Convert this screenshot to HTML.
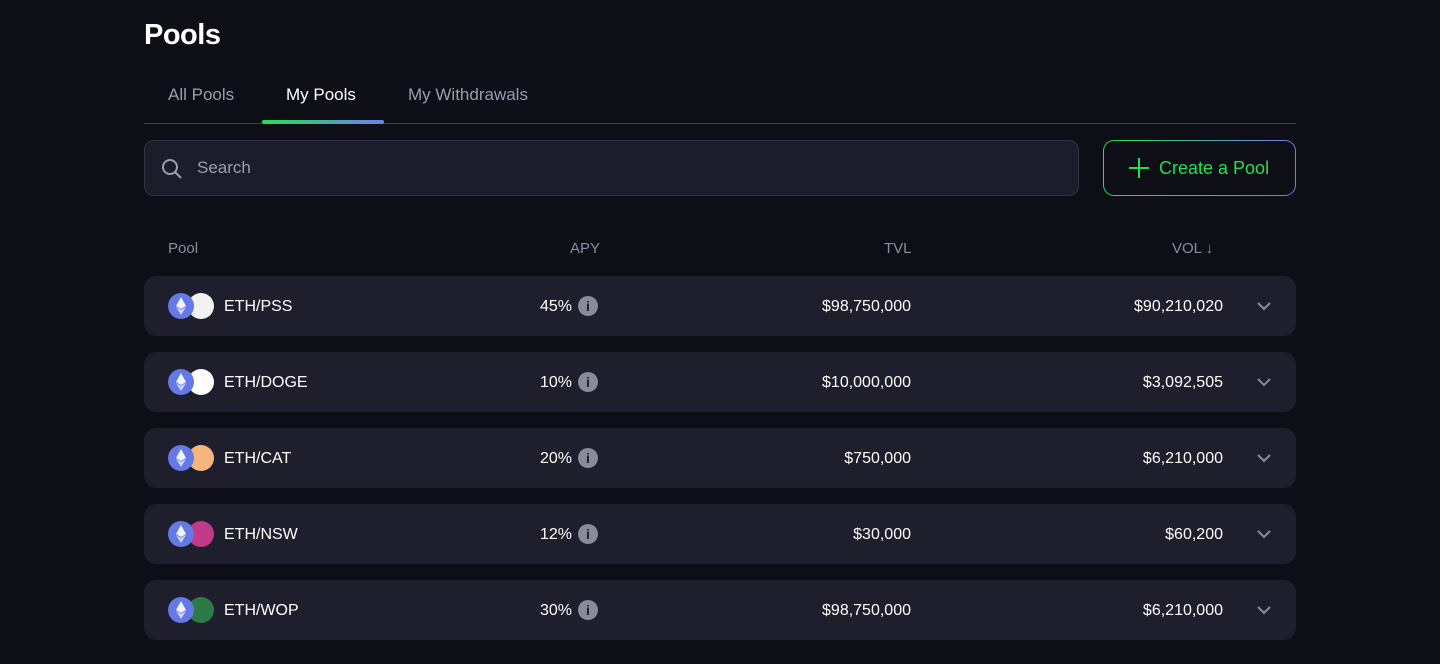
<!DOCTYPE html>
<html><head><style>
body{margin:0;width:1440px;height:664px;background:#0e0e17;font-family:"Liberation Sans",sans-serif;color:#fff;position:relative;overflow:hidden}
.a{position:absolute}
.title{left:144px;top:19px;font-size:29px;font-weight:bold;letter-spacing:-0.5px}
.tab{top:85px;font-size:17px;color:#9c9cb4}
.line{left:144px;top:123px;width:1152px;height:1px;background:#3e3e52}
.bar{left:262px;top:120px;width:122px;height:4px;border-radius:2px;background:linear-gradient(90deg,#1ee34c,#6e7ef0)}
.search{left:144px;top:140px;width:933px;height:54px;border:1px solid #33334a;border-radius:10px;background:#1c1c2a}
.btn{left:1103px;top:140px;width:193px;height:56px;border-radius:11px;background:linear-gradient(90deg,#1ee34c,#7878f0);}
.btn div{position:absolute;inset:1px;border-radius:10px;background:#0e0e17;color:#22e04c;font-size:18px;line-height:54px;text-align:left}
.hdr{top:240px;font-size:15px;color:#8c8ca4}
.row{left:144px;width:1152px;height:60px;border-radius:12px;background:#1e1e2d}
.row span{position:absolute;top:22px;font-size:16px;line-height:18px}
.c1{left:24px;top:17px;width:26px;height:26px;border-radius:50%;background:#6478e6}
.c2{left:44px;top:17px;width:26px;height:26px;border-radius:50%}
.info{position:absolute;left:434px;top:20px;width:20px;height:20px;border-radius:50%;background:#8a8a9e;color:#1e1e2d;font-size:14px;font-weight:bold;text-align:center;line-height:20px}
.chev{position:absolute;left:1113px;top:23px}
</style></head><body>
<div class="a title">Pools</div>
<div class="a tab" style="left:168px">All Pools</div>
<div class="a tab" style="left:286px;color:#fff">My Pools</div>
<div class="a tab" style="left:408px">My Withdrawals</div>
<div class="a line"></div><div class="a bar"></div>
<div class="a search"><svg class="a" style="left:15px;top:16px" width="24" height="24" viewBox="0 0 24 24"><circle cx="10" cy="10" r="7" stroke="#9c9cb4" stroke-width="2" fill="none"/><line x1="15" y1="15" x2="21" y2="21" stroke="#9c9cb4" stroke-width="2"/></svg><span class="a" style="left:52px;top:17px;font-size:17px;color:#9c9cb4">Search</span></div>
<div class="a btn"><div><svg style="position:absolute;left:25px;top:17px" width="20" height="20"><path d="M10 0V20M0 10H20" stroke="#22e04c" stroke-width="2"/></svg><span style="position:absolute;left:55px">Create a Pool</span></div></div>
<div class="a hdr" style="left:168px">Pool</div>
<div class="a hdr" style="left:570px">APY</div>
<div class="a hdr" style="left:884px">TVL</div>
<div class="a hdr" style="left:1172px">VOL ↓</div>

<div class="a row" style="top:276px"><div class="a c2" style="background:#f2f2f4"></div><div class="a c1"><svg width="26" height="26"><path d="M13 4L8 13L13 16L18 13Z" fill="#fff" opacity=".9"/><path d="M13 17L8 14L13 22L18 14Z" fill="#fff" opacity=".7"/></svg></div><span style="left:80px">ETH/PSS</span><span style="right:724px">45%</span><div class="info">i</div><span style="right:385px">$98,750,000</span><span style="right:73px">$90,210,020</span><svg class="chev" width="14" height="14"><path d="M1 4L7 10L13 4" stroke="#8a8a9e" stroke-width="2" fill="none"/></svg></div>
<div class="a row" style="top:352px"><div class="a c2" style="background:#fff"></div><div class="a c1"><svg width="26" height="26"><path d="M13 4L8 13L13 16L18 13Z" fill="#fff" opacity=".9"/><path d="M13 17L8 14L13 22L18 14Z" fill="#fff" opacity=".7"/></svg></div><span style="left:80px">ETH/DOGE</span><span style="right:724px">10%</span><div class="info">i</div><span style="right:385px">$10,000,000</span><span style="right:73px">$3,092,505</span><svg class="chev" width="14" height="14"><path d="M1 4L7 10L13 4" stroke="#8a8a9e" stroke-width="2" fill="none"/></svg></div>
<div class="a row" style="top:428px"><div class="a c2" style="background:#f4b67c"></div><div class="a c1"><svg width="26" height="26"><path d="M13 4L8 13L13 16L18 13Z" fill="#fff" opacity=".9"/><path d="M13 17L8 14L13 22L18 14Z" fill="#fff" opacity=".7"/></svg></div><span style="left:80px">ETH/CAT</span><span style="right:724px">20%</span><div class="info">i</div><span style="right:385px">$750,000</span><span style="right:73px">$6,210,000</span><svg class="chev" width="14" height="14"><path d="M1 4L7 10L13 4" stroke="#8a8a9e" stroke-width="2" fill="none"/></svg></div>
<div class="a row" style="top:504px"><div class="a c2" style="background:#c03a88"></div><div class="a c1"><svg width="26" height="26"><path d="M13 4L8 13L13 16L18 13Z" fill="#fff" opacity=".9"/><path d="M13 17L8 14L13 22L18 14Z" fill="#fff" opacity=".7"/></svg></div><span style="left:80px">ETH/NSW</span><span style="right:724px">12%</span><div class="info">i</div><span style="right:385px">$30,000</span><span style="right:73px">$60,200</span><svg class="chev" width="14" height="14"><path d="M1 4L7 10L13 4" stroke="#8a8a9e" stroke-width="2" fill="none"/></svg></div>
<div class="a row" style="top:580px"><div class="a c2" style="background:#2e7a44"></div><div class="a c1"><svg width="26" height="26"><path d="M13 4L8 13L13 16L18 13Z" fill="#fff" opacity=".9"/><path d="M13 17L8 14L13 22L18 14Z" fill="#fff" opacity=".7"/></svg></div><span style="left:80px">ETH/WOP</span><span style="right:724px">30%</span><div class="info">i</div><span style="right:385px">$98,750,000</span><span style="right:73px">$6,210,000</span><svg class="chev" width="14" height="14"><path d="M1 4L7 10L13 4" stroke="#8a8a9e" stroke-width="2" fill="none"/></svg></div>
</body></html>
